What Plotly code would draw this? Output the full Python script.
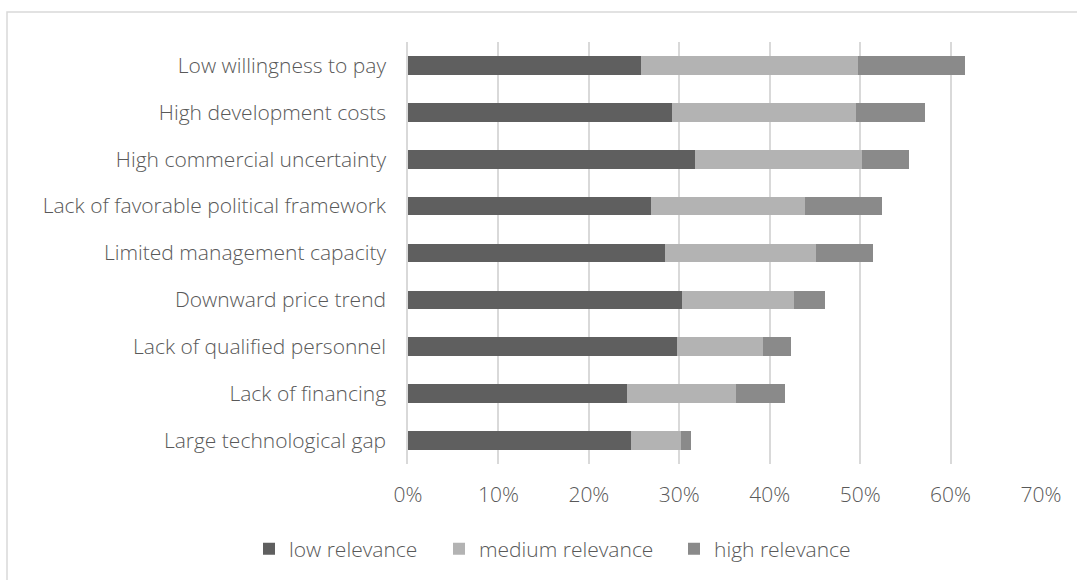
import plotly.graph_objects as go

categories = [
    "Low willingness to pay",
    "High development costs",
    "High commercial uncertainty",
    "Lack of favorable political framework",
    "Limited management capacity",
    "Downward price trend",
    "Lack of qualified personnel",
    "Lack of financing",
    "Large technological gap",
]
low_relevance = [25.8, 29.2, 31.7, 26.9, 28.4, 30.3, 29.7, 24.2, 24.7]
medium_relevance = [24.0, 20.3, 18.5, 17.0, 16.7, 12.4, 9.6, 12.1, 5.5]
high_relevance = [11.8, 7.7, 5.2, 8.5, 6.3, 3.4, 3.1, 5.4, 1.1]

series_names = ["low relevance", "medium relevance", "high relevance"]
series_colors = ["#5f5f5f", "#b3b3b3", "#8a8a8a"]
tick_vals = [0, 10, 20, 30, 40, 50, 60, 70]
tick_text = [f"{v}%" for v in tick_vals]

W, H = 1077, 580
ML, MR, MT, MB = 408, 36, 42, 115
pw = W - ML - MR
ph = H - MT - MB

legend_ids = ["legend", "legend2", "legend3"]
legend_px = [249, 439, 674]

fig = go.Figure()
for name, vals, col, lid in zip(series_names,
                                [low_relevance, medium_relevance, high_relevance],
                                series_colors, legend_ids):
    fig.add_trace(go.Bar(
        y=categories, x=vals, name=name, orientation="h",
        marker=dict(color=col, line=dict(width=0)),
        width=0.4, legend=lid,
    ))

fig.add_shape(
    type="rect", xref="paper", yref="paper",
    x0=(7 - ML) / pw, x1=(W + 10 - ML) / pw,
    y0=-(H + 10 - MT - ph) / ph, y1=(MT - 12 + ph) / ph,
    line=dict(color="#d9d9d9", width=1.5), fillcolor="rgba(0,0,0,0)", layer="below",
)

legend_y = -(549 - MT - ph) / ph
legend_common = dict(orientation="h", xanchor="left", y=legend_y, yanchor="middle",
                     font=dict(size=21, color="#595959"), itemwidth=30,
                     bgcolor="rgba(0,0,0,0)")

fig.update_layout(
    width=W, height=H,
    margin=dict(l=ML, r=MR, t=MT, b=MB, pad=0),
    barmode="stack",
    plot_bgcolor="white", paper_bgcolor="white",
    font=dict(family="Open Sans", size=21, color="#595959", weight=300),
    showlegend=True,
    legend=dict(x=(legend_px[0] - ML) / pw, **legend_common),
    legend2=dict(x=(legend_px[1] - ML) / pw, **legend_common),
    legend3=dict(x=(legend_px[2] - ML) / pw, **legend_common),
    xaxis=dict(
        range=[0, 70], tickvals=tick_vals, ticktext=tick_text,
        showgrid=True, gridcolor="#d9d9d9", gridwidth=1.5,
        zeroline=False, showline=False, ticks="",
        ticklabelstandoff=16,
    ),
    yaxis=dict(
        autorange="reversed", showgrid=False, zeroline=False,
        showline=True, linecolor="#d9d9d9", linewidth=1.5,
        ticks="", ticklabelstandoff=16,
    ),
)

fig.write_html("out.html", config={"displayModeBar": False},
               post_script="document.body.style.margin='0';")
